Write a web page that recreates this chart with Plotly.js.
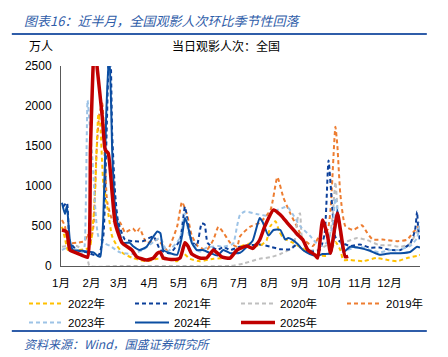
<!DOCTYPE html>
<html><head><meta charset="utf-8">
<script src="https://cdn.plot.ly/plotly-3.0.1.min.js"></script>
<style>html,body{margin:0;padding:0;background:#fff;}#chart{width:448px;height:357px;}</style>
</head><body><div id="chart"></div>
<script>
// Month tick labels (day-of-year of month start)
const monthDays = [0,31,59,90,120,151,181,212,243,273,304,334];
const monthLabels = ['1月','2月','3月','4月','5月','6月','7月','8月','9月','10月','11月','12月'];

// Daily attendance (万人), sampled by day-of-year
const days2019 = [1,4,7,16,24,27,30,33,36,39,42,44,47,52,57,60,65,70,73,77,80,87,98,108,118,123,128,133,139,148,155,160,165,172,179,182,192,202,213,220,226,233,240,246,256,265,271,274,279,281,284,289,297,306,311,317,327,342,352,358,364];
const vals2019 = [575,500,290,290,310,400,300,500,1400,1900,2030,1500,800,580,530,545,420,450,470,420,470,290,330,200,490,800,650,380,250,200,330,490,420,290,240,370,490,540,700,1110,860,660,490,340,250,420,450,700,1740,1500,900,500,450,510,420,330,330,310,330,420,500];

const days2020 = [1,9,16,22,27,29,60,120,172,185,202,213,223,236,241,243,245,251,260,271,276,279,282,287,301,311,324,335,345,355,363,365];
const vals2020 = [240,260,250,200,90,0,0,0,0,30,90,110,150,240,620,660,350,200,200,270,600,1050,600,300,350,325,260,260,240,280,450,450];

const days2021 = [2,6,9,16,26,38,43,46,49,50,52,55,58,65,73,83,94,101,111,121,126,129,133,138,143,146,149,159,165,172,182,202,213,223,233,240,246,256,263,268,272,276,279,284,287,294,304,314,324,335,345,355,360,362,363,365];
const vals2021 = [740,790,300,200,170,130,370,1500,2800,2900,1660,910,560,330,310,310,370,200,160,330,740,530,310,250,530,520,290,200,240,200,240,270,240,210,210,270,200,180,200,400,1320,700,360,300,280,250,270,230,230,200,200,280,450,680,500,300];

const days2022 = [1,4,7,19,29,33,35,38,40,43,47,52,57,63,73,87,98,108,118,124,131,141,155,172,182,192,202,209,213,218,222,226,236,243,253,263,271,279,284,287,294,307,321,332,342,352,363,365];
const vals2022 = [490,350,200,200,230,600,1030,1900,1750,1030,740,370,250,160,100,60,90,90,60,160,90,60,90,110,240,280,250,320,500,560,430,350,290,240,170,130,130,300,200,75,75,60,100,75,60,100,130,140];

const days2023 = [1,9,16,22,24,27,29,32,35,38,45,50,60,73,83,94,101,108,121,126,131,141,148,160,165,175,179,182,187,199,209,220,230,236,243,253,263,271,276,279,282,287,297,304,314,324,335,342,355,362,365];
const vals2023 = [200,240,200,170,250,2070,1800,1330,700,370,280,250,170,150,200,300,350,180,350,660,350,180,230,250,240,280,500,640,680,650,630,700,740,640,500,380,250,300,500,850,600,200,220,240,200,170,200,200,250,350,550];

const days2024 = [1,4,6,9,12,22,33,38,40,43,46,49,51,52,55,58,63,70,73,80,87,94,98,101,104,111,118,123,126,129,133,138,144,152,159,165,172,182,189,195,202,205,211,216,223,228,231,235,240,246,253,260,266,274,279,281,284,287,294,304,314,324,335,345,355,362,365];
const vals2024 = [790,650,750,325,200,190,170,120,120,600,1900,2700,2000,1450,740,500,290,290,250,200,240,370,430,410,200,160,140,370,600,500,290,200,200,160,130,200,160,165,240,320,600,550,380,450,450,330,350,330,280,200,150,125,150,160,500,700,450,175,240,225,190,140,160,160,175,240,230];

const days2025 = [1,4,6,9,16,22,27,30,34,37,42,45,48,52,55,62,72,77,87,94,98,101,104,114,121,126,129,133,141,148,155,159,164,172,179,189,195,202,207,216,223,230,235,240,246,251,258,261,266,271,274,281,284,289,292];
const vals2025 = [450,440,425,200,160,130,110,1500,2800,2450,1860,1450,1410,910,540,290,200,115,75,100,160,170,100,80,100,290,250,150,100,100,200,160,110,100,200,250,220,325,490,700,640,540,470,400,325,200,140,100,575,375,160,660,460,115,120];

const seriesNames = ['2019年','2020年','2021年','2022年','2023年','2024年','2025年'];
const seriesDays = [days2019,days2020,days2021,days2022,days2023,days2024,days2025];
const seriesVals = [vals2019,vals2020,vals2021,vals2022,vals2023,vals2024,vals2025];
const seriesColors = ['#ED7D31','#BFBFBF','#0B3F9A','#FFC000','#9DC3E6','#0B4EA2','#C00000'];
const seriesDash = ['4px,3px','4px,3px','4px,3px','4px,3px','4px,3px','solid','solid'];
const seriesWidth = [2,2,2,2,2,2,3.5];
const legendRanks = [4,3,2,1,5,6,7];

const traces = seriesNames.map((n,i)=>({
  type:'scatter', mode:'lines', name:n,
  x: seriesDays[i], y: seriesVals[i],
  line:{color:seriesColors[i], width:seriesWidth[i], dash:seriesDash[i], shape:'spline', smoothing:0.5},
  legendrank: legendRanks[i], hoverinfo:'skip'
}));

const fontLatin = 'Liberation Sans, Arial, Noto Sans CJK SC, sans-serif';
const fontCJK = 'Noto Sans CJK SC, Liberation Sans, sans-serif';

const layout = {
  width:448, height:357,
  margin:{l:61, r:28, t:66, b:91},
  paper_bgcolor:'#fff', plot_bgcolor:'#fff',
  font:{family:fontLatin, size:12, color:'#000'},
  showlegend:true,
  legend:{orientation:'h', x:-0.038, xanchor:'left', y:-0.115, yanchor:'top',
    entrywidth:57, entrywidthmode:'pixels', itemwidth:34, traceorder:'normal',
    font:{family:fontLatin, size:11.5, color:'#000'}, bgcolor:'rgba(0,0,0,0)'},
  xaxis:{range:[0,365], tickmode:'array', tickvals:monthDays, ticktext:monthLabels,
    showgrid:false, zeroline:false, showline:true, linecolor:'#595959', linewidth:1,
    ticks:'', ticklabelstandoff:6, tickfont:{family:fontLatin, size:11.5, color:'#000'}, fixedrange:true},
  yaxis:{range:[0,2500], tickmode:'array', tickvals:[0,500,1000,1500,2000,2500],
    showgrid:false, zeroline:false, showline:true, linecolor:'#595959', linewidth:1,
    ticks:'', ticklabelstandoff:6, tickfont:{family:fontLatin, size:12, color:'#000'}, fixedrange:true},
  shapes:[
    {type:'line', xref:'paper', yref:'paper', x0:-0.137, x1:1.019, y0:1.16, y1:1.16, line:{color:'#2F5DA9', width:2}},
    {type:'line', xref:'paper', yref:'paper', x0:-0.137, x1:1.019, y0:-0.325, y1:-0.325, line:{color:'#2F5DA9', width:2}}
  ],
  annotations:[
    {xref:'paper', yref:'paper', x:-0.109, y:1.23, xanchor:'left', yanchor:'middle', showarrow:false,
     text:'<i>图表16：近半月，全国观影人次环比季节性回落</i>', font:{family:fontCJK, size:13, color:'#2F5DA9'}},
    {xref:'paper', yref:'paper', x:-0.095, y:1.1, xanchor:'left', yanchor:'middle', showarrow:false,
     text:'万人', font:{family:fontCJK, size:12, color:'#000'}},
    {xref:'paper', yref:'paper', x:0.46, y:1.1, xanchor:'center', yanchor:'middle', showarrow:false,
     text:'当日观影人次：全国', font:{family:fontCJK, size:12, color:'#000'}},
    {xref:'paper', yref:'paper', x:-0.109, y:-0.385, xanchor:'left', yanchor:'middle', showarrow:false,
     text:'<i>资料来源：Wind，国盛证券研究所</i>', font:{family:fontCJK, size:12, color:'#2F5DA9'}}
  ]
};
Plotly.newPlot('chart', traces, layout, {displayModeBar:false, staticPlot:true});
</script></body></html>
